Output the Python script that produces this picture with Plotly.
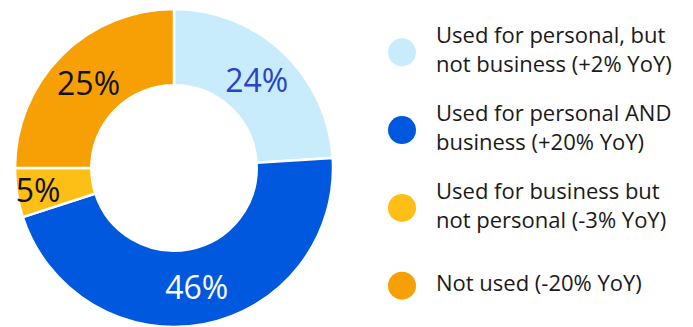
import plotly.graph_objects as go

# Survey shares (percent of respondents), clockwise from 12 o'clock
categories = [
    "Used for personal, but not business",
    "Used for personal AND business",
    "Used for business but not personal",
    "Not used",
]
shares = [24, 46, 5, 25]
yoy = ["+2%", "+20%", "-3%", "-20%"]

# Legend wording, split over two lines where it wraps
legend_labels = [
    "Used for personal, but<br>not business (+2% YoY)",
    "Used for personal AND<br>business (+20% YoY)",
    "Used for business but<br>not personal (-3% YoY)",
    "Not used (-20% YoY)",
]

slice_colors = ["#C9ECFD", "#0058DF", "#FDBE15", "#F6A005"]
label_colors = ["#2A44C8", "#FFFFFF", "#111111", "#111111"]

W, H = 693, 327
FONT = "Open Sans"
LEGEND_SIZE = 22
STEP_PX = 77.8        # vertical distance between legend entries

fig = go.Figure()

fig.add_trace(go.Pie(
    labels=categories,
    values=shares,
    sort=False,
    direction="clockwise",
    rotation=0,
    hole=0.52,
    marker=dict(colors=slice_colors, line=dict(color="white", width=2.5)),
    texttemplate="%{value}%",
    textposition="inside",
    insidetextorientation="horizontal",
    textfont=dict(family=FONT, size=32, color=label_colors),
    domain=dict(x=[15 / W, 333 / W], y=[0, 318 / H]),
    showlegend=False,
    hoverinfo="label+value",
))

# Custom legend: round swatches with wrapped labels beside them
idx = list(range(len(categories)))
fig.add_trace(go.Scatter(
    x=[0] * len(idx),
    y=idx,
    mode="markers",
    marker=dict(size=28, color=slice_colors),
    showlegend=False,
    hoverinfo="skip",
))
fig.add_trace(go.Scatter(
    x=[34] * len(idx),
    y=idx,
    mode="text",
    text=legend_labels,
    textposition="middle right",
    textfont=dict(family=FONT, size=LEGEND_SIZE, color="#1A1A1A"),
    showlegend=False,
    hoverinfo="skip",
))

y0 = -52.3 / STEP_PX
fig.update_layout(
    width=W,
    height=H,
    margin=dict(l=0, r=0, t=0, b=0),
    paper_bgcolor="white",
    plot_bgcolor="rgba(0,0,0,0)",
    uniformtext=dict(minsize=32, mode="show"),
    xaxis=dict(visible=False, range=[-402, W - 402], domain=[0, 1], fixedrange=True),
    yaxis=dict(visible=False, range=[y0 + H / STEP_PX, y0], domain=[0, 1], fixedrange=True),
)

fig.write_html("out.html")
